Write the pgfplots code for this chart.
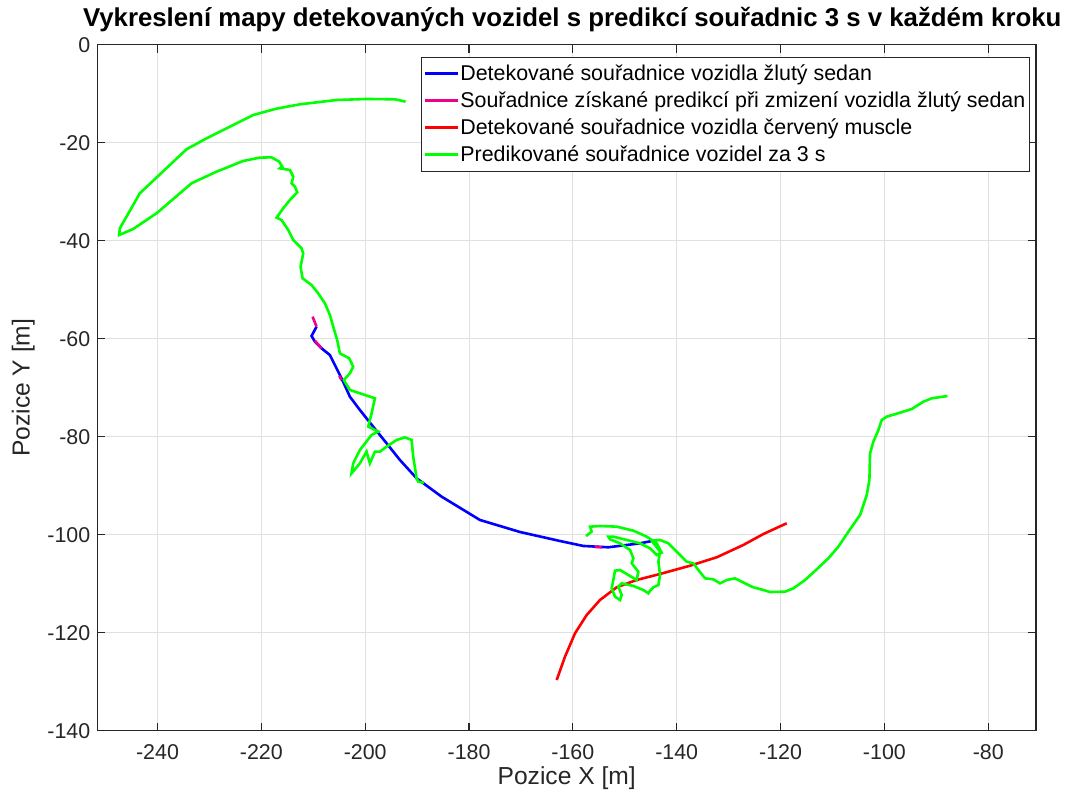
\documentclass[border=0pt]{standalone}
\usepackage{pgfplots}
\pgfplotsset{compat=1.18}
\usepackage{fontspec}
\setmainfont{Liberation Sans}
\definecolor{gridc}{RGB}{224,224,224}
\definecolor{axc}{RGB}{38,38,38}
\begin{document}
\begin{tikzpicture}
\begin{axis}[
  at={(0,0)}, anchor=south west,
  scale only axis, width=469.35pt, height=343pt,
  xmin=-251.6, xmax=-70.8, ymin=-140, ymax=0,
  xtick={-240,-220,...,-80}, ytick={-140,-120,...,0},
  /pgf/number format/assume math mode=true,
  tick pos=both, tick align=inside, major tick length=4pt,
  grid=major, major grid style={gridc, line width=0.5pt},
  axis line style={axc, line width=0.6pt},
  every tick/.style={axc, line width=0.6pt},
  tick label style={font=\fontsize{10.7}{12}\selectfont, text=axc},
  xticklabel style={yshift=-3.5pt},
  label style={font=\fontsize{12.3}{14}\selectfont, text=axc},
  xlabel={Pozice X [m]}, ylabel={Pozice Y [m]},
  xlabel style={at={(axis description cs:0.5,-0.069)}, anchor=center},
  ylabel style={at={(axis description cs:-0.079,0.5)}, anchor=center, rotate=0},
  every axis title shift=0pt,
  title={Vykreslení mapy detekovaných vozidel s predikcí souřadnic 3 s v každém kroku},
  title style={at={(axis description cs:0.506,1.036)}, anchor=center, font=\bfseries\fontsize{12.9}{15}\selectfont},
  unbounded coords=jump,
  legend style={at={(axis description cs:0.9935,0.9825)}, anchor=north east,
    draw=axc, line width=0.5pt, fill=white,
    font=\fontsize{10.7}{12}\selectfont, row sep=0pt, inner sep=1.5pt,
    nodes={inner sep=0.5pt, text height=9.7pt, text depth=2.8pt, anchor=west}},
  legend cell align=left,
  legend image code/.code={\draw[#1, line width=1.2pt] (0pt,0pt) -- (16.5pt,0pt);},
]
\addplot[blue, line width=1.3pt] coordinates {
(-209.37,-57.54) (-210.33,-59.45) (-209.69,-60.60) (-208.41,-61.97) (-206.80,-63.33)
(-204.55,-68.09) (-202.95,-71.84) (-201.02,-74.55) (-198.46,-77.96) (-195.88,-81.35)
(-193.31,-84.76) (-190.10,-88.49) (-185.28,-92.24) (-177.90,-97.00) (-170.19,-99.45)
(-162.48,-101.29) (-157.99,-102.30) (-153.18,-102.57) (-149.63,-102.10) (-147.07,-101.76)
(-144.82,-101.29)
};
\addlegendentry{Detekované souřadnice vozidla žlutý sedan}
\addplot[magenta, line width=1.3pt] coordinates {
(-210.14,-55.50) (-209.37,-57.54) (nan,nan)
(-209.69,-60.40) (-208.41,-61.97) (nan,nan)
(-205.00,-67.60) (-204.55,-68.43) (nan,nan)
(-155.80,-102.50) (-154.40,-102.57)
};
\addlegendentry{Souřadnice získané predikcí při zmizení vozidla žlutý sedan}
\addplot[red, line width=1.3pt] coordinates {
(-163.12,-129.65) (-161.52,-124.90) (-159.59,-120.12) (-157.34,-116.39) (-154.78,-113.33)
(-151.56,-110.73) (-147.71,-109.24) (-143.22,-108.02) (-137.44,-106.33) (-132.29,-104.61)
(-127.17,-102.10) (-123.31,-99.86) (-118.81,-97.67)
};
\addlegendentry{Detekované souřadnice vozidla červený muscle}
\addplot[green, line width=1.3pt] coordinates {
(-192.22,-11.63) (-194.27,-11.15) (-199.73,-11.08) (-205.51,-11.29) (-212.58,-12.17)
(-217.07,-13.05) (-221.57,-14.35) (-226.07,-16.73) (-230.56,-19.11) (-234.42,-21.35)
(-237.63,-24.55) (-243.41,-30.33) (-247.26,-37.48) (-247.39,-38.84) (-244.69,-37.61)
(-240.19,-34.41) (-233.45,-28.29) (-228.63,-25.91) (-223.50,-23.73) (-220.28,-23.05)
(-218.04,-22.99) (-216.56,-23.87) (-215.98,-24.89) (-216.43,-25.23) (-214.50,-25.57)
(-213.86,-26.93) (-214.18,-28.29) (-213.54,-28.97) (-213.09,-30.13) (-214.50,-31.69)
(-215.79,-33.39) (-217.07,-35.30) (-216.11,-35.78) (-214.83,-37.82) (-213.86,-39.86)
(-212.26,-41.56) (-211.94,-42.58) (-212.45,-45.30) (-212.07,-47.68) (-210.34,-49.04)
(-209.05,-50.74) (-207.77,-52.78) (-206.80,-55.16) (-206.16,-57.54) (-205.39,-60.27)
(-204.88,-62.99) (-203.08,-64.01) (-202.31,-65.71) (-202.95,-67.07) (-204.11,-68.43)
(-202.95,-70.47) (-198.13,-72.17) (-198.77,-75.23) (-199.42,-77.95) (-198.13,-78.63)
(-197.49,-78.97) (-198.77,-79.65) (-201.02,-82.71) (-202.31,-85.43) (-202.63,-87.48)
(-201.02,-85.43) (-199.74,-83.05) (-199.10,-85.43) (-198.13,-83.05) (-197.17,-83.05)
(-195.88,-82.03) (-193.96,-80.67) (-192.35,-80.13) (-191.07,-80.67) (-190.75,-84.07)
(-190.10,-88.50) (-189.78,-89.17) (-188.69,-89.38)
(nan,nan)
(-157.47,-100.27) (-156.38,-99.38) (-156.70,-98.36) (-154.78,-98.23) (-151.56,-98.36)
(-148.35,-99.18) (-145.78,-100.40) (-143.86,-101.76) (-142.89,-103.67) (-143.86,-104.14)
(-145.14,-102.78) (-147.07,-101.76) (-149.64,-101.08) (-152.21,-100.40) (-153.17,-100.40)
(-152.85,-100.95) (-150.92,-101.76) (-149.00,-103.12) (-148.35,-104.82) (-148.67,-105.85)
(-147.39,-107.55) (-147.71,-109.25) (-149.32,-108.23) (-150.92,-107.21) (-151.89,-107.34)
(-152.21,-109.25) (-152.53,-110.95) (-151.89,-112.65) (-150.92,-113.33) (-150.60,-112.31)
(-151.24,-110.61) (-150.60,-109.93) (-148.35,-110.47) (-146.43,-111.29) (-145.46,-111.97)
(-145.14,-111.42) (-144.50,-110.74) (-143.53,-110.27) (-143.21,-108.23) (-143.53,-105.50)
(-143.21,-103.46) (-144.82,-101.22) (-143.21,-101.08) (-141.61,-101.76) (-139.68,-103.80)
(-138.08,-105.50) (-136.79,-105.85) (-135.83,-107.21) (-134.54,-108.91) (-132.94,-109.11)
(-131.66,-109.93) (-130.37,-109.25) (-128.77,-108.91) (-127.48,-109.59) (-126.20,-110.27)
(-125.23,-110.74) (-123.31,-111.29) (-122.03,-111.70) (-119.14,-111.63) (-117.53,-110.95)
(-115.28,-109.25) (-113.03,-107.07) (-110.79,-104.82) (-108.86,-102.44) (-106.93,-99.38)
(-104.69,-95.98) (-103.40,-91.90) (-102.89,-88.84) (-102.76,-83.40) (-102.12,-81.00)
(-101.15,-78.63) (-100.51,-76.59) (-99.55,-75.91) (-96.98,-75.10) (-94.73,-74.35)
(-92.48,-72.85) (-90.88,-72.17) (-87.86,-71.70)
};
\addlegendentry{Predikované souřadnice vozidel za 3 s}
\end{axis}
\pgfresetboundingbox
\path (-48.65pt,-35.15pt) rectangle (484.35pt,365.35pt);
\end{tikzpicture}
\end{document}
